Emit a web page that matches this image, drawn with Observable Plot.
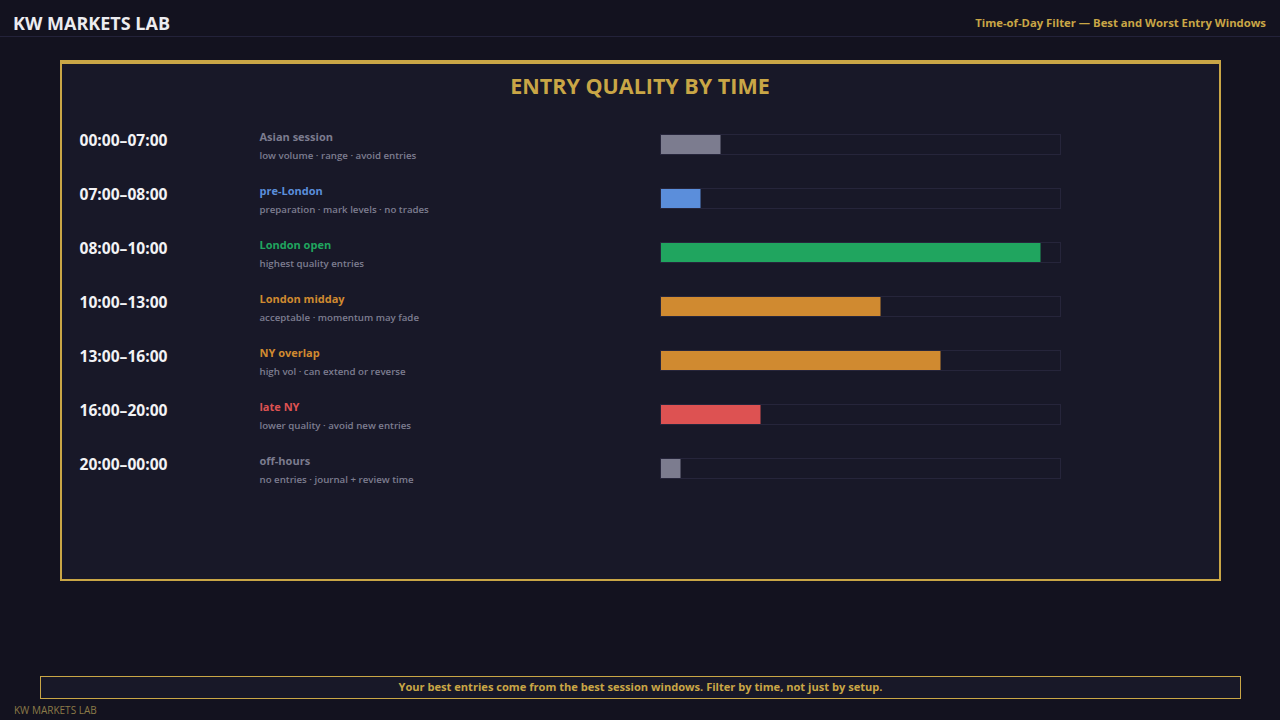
<!DOCTYPE html>
<html>
<head>
<meta charset="utf-8">
<script src="https://cdn.jsdelivr.net/npm/d3@7"></script>
<script src="https://cdn.jsdelivr.net/npm/@observablehq/plot@0.6"></script>
<style>
  html, body { margin: 0; padding: 0; }
  body { width: 1280px; height: 720px; overflow: hidden; position: relative; background: #13121f; font-family: "Open Sans", "Noto Sans", sans-serif; }
  .header { position: absolute; left: 0; top: 0; width: 1280px; height: 37px; border-bottom: 1px solid #23223a; box-sizing: border-box; }
  .brand { position: absolute; left: 13px; top: 10px; font-size: 18px; line-height: 26px; font-weight: 700; color: #ececf0; }
  .subtitle { position: absolute; right: 14px; top: 14px; font-size: 11.3px; line-height: 18px; font-weight: 700; color: #c9a646; }
  .panel { position: absolute; left: 60px; top: 60px; width: 1161px; height: 521px; box-sizing: border-box; border: 2px solid #c9a646; border-top-width: 4px; background: #181828; }
  .ptitle { position: absolute; left: 0; width: 1280px; top: 70px; text-align: center; font-size: 21.5px; line-height: 32px; font-weight: 700; color: #c9a646; }
  #chart { position: absolute; left: 0; top: 117px; }
  .foot { position: absolute; left: 40px; top: 676px; width: 1201px; height: 23px; box-sizing: border-box; border: 1px solid #c9a646; background: #181828; text-align: center; font-size: 11.1px; line-height: 20px; font-weight: 700; color: #c9a646; }
  .mark { position: absolute; left: 14px; top: 703px; font-size: 10px; line-height: 14px; color: #8c7a48; }
</style>
</head>
<body>
<div class="header">
  <div class="brand">KW MARKETS LAB</div>
  <div class="subtitle">Time-of-Day Filter — Best and Worst Entry Windows</div>
</div>
<div class="panel"></div>
<div class="ptitle">ENTRY QUALITY BY TIME</div>
<div id="chart"></div>
<div class="foot">Your best entries come from the best session windows. Filter by time, not just by setup.</div>
<div class="mark">KW MARKETS LAB</div>
<script>
const times = ["00:00–07:00", "07:00–08:00", "08:00–10:00", "10:00–13:00", "13:00–16:00", "16:00–20:00", "20:00–00:00"];
const sessions = ["Asian session", "pre-London", "London open", "London midday", "NY overlap", "late NY", "off-hours"];
const notes = [
  "low volume · range · avoid entries",
  "preparation · mark levels · no trades",
  "highest quality entries",
  "acceptable · momentum may fade",
  "high vol · can extend or reverse",
  "lower quality · avoid new entries",
  "no entries · journal + review time"
];
const quality = [15, 10, 95, 55, 70, 25, 5];
const palette = ["#7c7c8f", "#5b8edb", "#20a55f", "#d08a30", "#d08a30", "#dd5252", "#7c7c8f"];

const rows = times.map((t, i) => ({ time: t, session: sessions[i], note: notes[i], q: quality[i] }));

const chart = Plot.plot({
  width: 1280,
  height: 378,
  marginLeft: 0, marginRight: 0, marginTop: 0, marginBottom: 0,
  style: { background: "transparent", fontFamily: "'Open Sans', 'Noto Sans', sans-serif", overflow: "visible" },
  x: { domain: [0, 100], range: [660.5, 1060.5], axis: null },
  y: { domain: times, range: [0, 378], padding: 0, axis: null },
  color: { domain: sessions, range: palette },
  marks: [
    Plot.barX(rows, { x1: 0, x2: 100, y: "time", fill: "none", stroke: "#26253b", strokeWidth: 1, insetTop: 17.5, insetBottom: 16.5 }),
    Plot.barX(rows, { x1: 0, x2: "q", y: "time", fill: "session", insetTop: 18, insetBottom: 17, insetLeft: 0.5 }),
    Plot.text(rows, { y: "time", text: "time", frameAnchor: "left", textAnchor: "start", dx: 79, dy: -4, fill: "#f2f2f5", fontSize: 15.6, fontWeight: 700 }),
    Plot.text(rows, { y: "time", text: "session", frameAnchor: "left", textAnchor: "start", dx: 259, dy: -7, fill: "session", fontSize: 11, fontWeight: 700 }),
    Plot.text(rows, { y: "time", text: "note", frameAnchor: "left", textAnchor: "start", dx: 259, dy: 11.5, fill: "#7d7d90", fontSize: 9.7, fontWeight: 600 })
  ]
});
document.getElementById("chart").appendChild(chart);
</script>
</body>
</html>
